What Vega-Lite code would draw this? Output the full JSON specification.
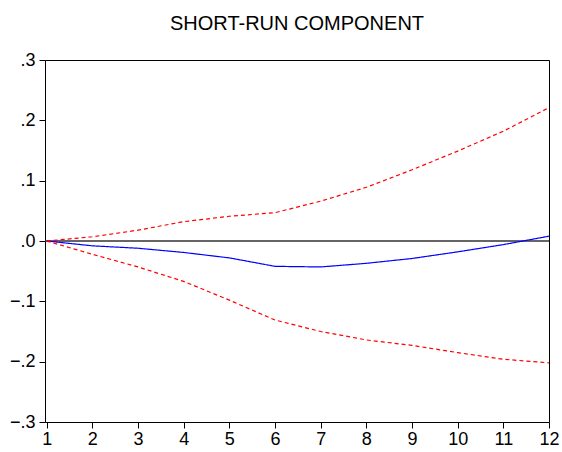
{
  "$schema": "https://vega.github.io/schema/vega-lite/v6.json",
  "autosize": "none",
  "width": 504,
  "height": 362,
  "padding": {"left": 45, "top": 60, "right": 13, "bottom": 30},
  "background": "white",
  "title": {
    "text": "SHORT-RUN COMPONENT",
    "font": "Liberation Sans",
    "fontSize": 20,
    "fontWeight": "normal",
    "color": "#000000",
    "anchor": "middle",
    "offset": 17
  },
  "config": {
    "view": {"stroke": "#000000", "strokeWidth": 1},
    "axis": {
      "labelFont": "Liberation Sans",
      "labelFontSize": 18,
      "labelColor": "#000000",
      "tickColor": "#000000",
      "tickSize": 6,
      "domain": false,
      "grid": false,
      "labelFlush": false,
      "labelOverlap": false,
      "title": null
    }
  },
  "data": {
    "values": [
      {"h": 1, "series": "mid", "v": 0},
      {"h": 2, "series": "mid", "v": -0.008},
      {"h": 3, "series": "mid", "v": -0.012},
      {"h": 4, "series": "mid", "v": -0.019},
      {"h": 5, "series": "mid", "v": -0.028},
      {"h": 6, "series": "mid", "v": -0.042},
      {"h": 7, "series": "mid", "v": -0.043},
      {"h": 8, "series": "mid", "v": -0.037},
      {"h": 9, "series": "mid", "v": -0.029},
      {"h": 10, "series": "mid", "v": -0.018},
      {"h": 11, "series": "mid", "v": -0.006},
      {"h": 12, "series": "mid", "v": 0.008},
      {"h": 1, "series": "upper", "v": 0},
      {"h": 2, "series": "upper", "v": 0.007},
      {"h": 3, "series": "upper", "v": 0.018},
      {"h": 4, "series": "upper", "v": 0.032},
      {"h": 5, "series": "upper", "v": 0.041},
      {"h": 6, "series": "upper", "v": 0.047},
      {"h": 7, "series": "upper", "v": 0.066},
      {"h": 8, "series": "upper", "v": 0.089},
      {"h": 9, "series": "upper", "v": 0.118},
      {"h": 10, "series": "upper", "v": 0.149},
      {"h": 11, "series": "upper", "v": 0.182},
      {"h": 12, "series": "upper", "v": 0.221},
      {"h": 1, "series": "lower", "v": 0},
      {"h": 2, "series": "lower", "v": -0.022},
      {"h": 3, "series": "lower", "v": -0.043},
      {"h": 4, "series": "lower", "v": -0.067},
      {"h": 5, "series": "lower", "v": -0.098},
      {"h": 6, "series": "lower", "v": -0.131},
      {"h": 7, "series": "lower", "v": -0.150},
      {"h": 8, "series": "lower", "v": -0.164},
      {"h": 9, "series": "lower", "v": -0.173},
      {"h": 10, "series": "lower", "v": -0.185},
      {"h": 11, "series": "lower", "v": -0.196},
      {"h": 12, "series": "lower", "v": -0.202}
    ]
  },
  "layer": [
    {
      "mark": {"type": "rule", "color": "#333333", "strokeWidth": 1.5},
      "data": {"values": [{"z": 0}]},
      "encoding": {
        "y": {"field": "z", "type": "quantitative", "scale": {"domain": [-0.3, 0.3]}}
      }
    },
    {
      "mark": {"type": "line", "strokeWidth": 1.2, "clip": true},
      "encoding": {
        "x": {
          "field": "h",
          "type": "quantitative",
          "scale": {"domain": [0.963, 12], "nice": false, "zero": false},
          "axis": {"values": [1, 2, 3, 4, 5, 6, 7, 8, 9, 10, 11, 12], "labelPadding": 2}
        },
        "y": {
          "field": "v",
          "type": "quantitative",
          "scale": {"domain": [-0.3, 0.3], "nice": false},
          "axis": {
            "values": [-0.3, -0.2, -0.1, 0, 0.1, 0.2, 0.3],
            "labelExpr": "replace(format(datum.value, '.1f'), '0.', '.')",
            "labelPadding": 4
          }
        },
        "detail": {"field": "series"},
        "color": {
          "field": "series",
          "type": "nominal",
          "scale": {"domain": ["mid", "upper", "lower"], "range": ["#0000ff", "#ff0000", "#ff0000"]},
          "legend": null
        },
        "strokeDash": {
          "field": "series",
          "type": "nominal",
          "scale": {"domain": ["mid", "upper", "lower"], "range": [[1, 0], [4, 3], [4, 3]]},
          "legend": null
        }
      }
    }
  ]
}
